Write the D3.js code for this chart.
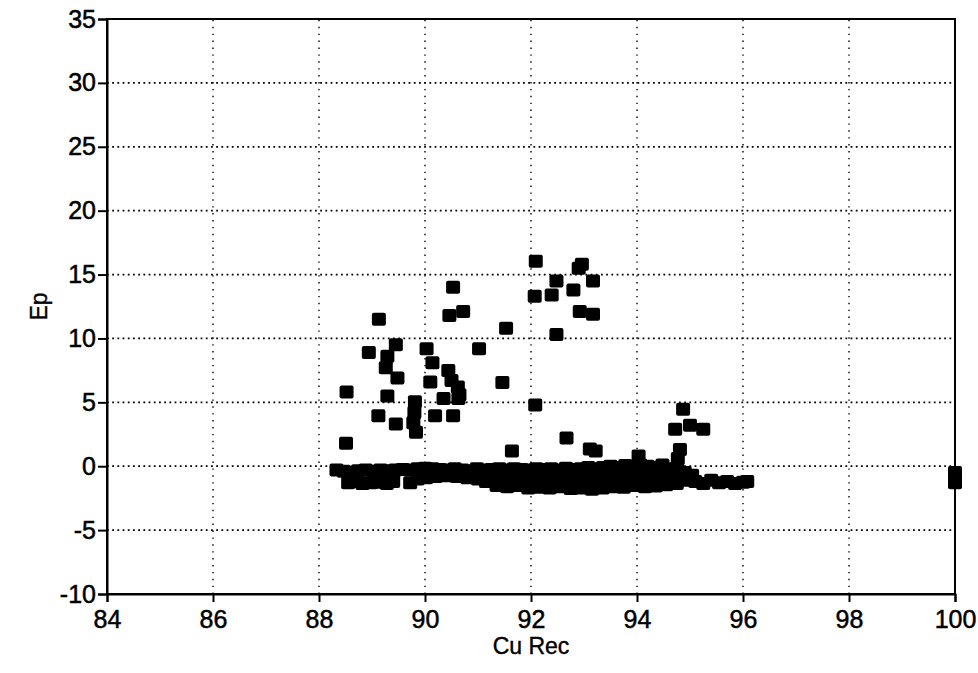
<!DOCTYPE html>
<html>
<head>
<meta charset="utf-8">
<script src="https://cdn.jsdelivr.net/npm/d3@7"></script>
<style>
  html, body { margin: 0; padding: 0; background: #fff; }
  svg { display: block; }
  .tick text { font-family: "Liberation Sans", Arial, sans-serif; font-size: 25px; fill: #000; stroke: #000; stroke-width: 0.5px; }
  .title { font-family: "Liberation Sans", Arial, sans-serif; font-size: 23px; fill: #000; stroke: #000; stroke-width: 0.4px; }
</style>
</head>
<body>
<svg id="chart" width="978" height="673"></svg>
<script>
// Axis ticks
const xTicks = [84, 86, 88, 90, 92, 94, 96, 98, 100];
const yTicks = [-10, -5, 0, 5, 10, 15, 20, 25, 30, 35];

// Scattered points above the main band: Cu recovery vs Ep
const scatterCuRec = [
  88.51, 88.52, 88.94, 89.13, 89.45, 89.29, 89.26, 89.48,
  90.03, 90.14, 90.44, 90.50, 90.65, 90.62, 90.10, 91.02, 91.46,
  89.29, 89.81, 90.35, 90.63, 89.12, 89.45, 89.80, 89.78, 89.83,
  90.19, 90.53, 92.08, 91.64, 92.67, 93.11, 93.22,
  90.53, 90.46, 90.72, 91.53,
  92.09, 92.48, 92.90, 92.96, 92.80, 93.17, 92.07, 92.39, 92.92, 93.17, 92.48,
  94.87, 94.72, 95.25, 95.00, 94.81, 94.77, 94.03,
  100.0, 100.0
];
const scatterEp = [
  1.8, 5.8, 8.9, 11.5, 9.5, 8.6, 7.7, 6.9,
  9.2, 8.1, 7.5, 6.7, 5.6, 6.2, 6.6, 9.2, 6.55,
  5.5, 5.05, 5.3, 5.3, 3.95, 3.3, 4.2, 3.4, 2.65,
  3.95, 3.95, 4.8, 1.2, 2.2, 1.35, 1.2,
  14.0, 11.8, 12.1, 10.8,
  16.05, 14.5, 15.5, 15.8, 13.8, 14.5, 13.3, 13.4, 12.1, 11.9, 10.3,
  4.45, 2.9, 2.9, 3.2, 1.3, 0.6, 0.8,
  -0.5, -1.3
];

// Dense band of points just below zero
const bandCuRec = [
  88.33, 88.47, 88.60, 88.74, 88.88, 89.02, 89.16, 89.30, 89.44, 89.58,
  89.72, 89.86, 90.00, 90.14, 90.28, 90.42, 90.56, 90.70, 90.84, 90.98,
  91.12, 91.26, 91.40, 91.54, 91.68, 91.82, 91.96, 92.10, 92.24, 92.38,
  92.52, 92.66, 92.80, 92.94, 93.08, 93.22, 93.36, 93.50, 93.64, 93.78,
  93.92, 94.06, 94.20, 94.34, 94.48, 94.62, 94.76, 94.90, 95.04,
  88.55, 88.68, 88.82, 88.98, 89.12, 89.28, 89.40, 89.72, 89.86, 90.02,
  90.20, 90.40, 90.60, 90.80, 91.00, 91.15,
  91.30, 91.50, 91.70, 91.90, 92.10, 92.30, 92.50, 92.70, 92.90, 93.10,
  93.30, 93.50, 93.70, 93.90, 94.10, 94.30, 94.50, 94.70, 94.90,
  91.35, 91.55, 91.75, 91.95, 92.15, 92.35, 92.55, 92.75, 92.95, 93.15,
  93.35, 93.55, 93.75, 93.95, 94.15, 94.35, 94.55, 94.75,
  95.10, 95.25, 95.40, 95.55, 95.70, 95.85, 96.00, 96.08
];
const bandEp = [
  -0.3, -0.4, -0.5, -0.35, -0.3, -0.4, -0.3, -0.35, -0.3, -0.25,
  -0.3, -0.2, -0.15, -0.2, -0.25, -0.3, -0.2, -0.3, -0.35, -0.2,
  -0.3, -0.25, -0.2, -0.3, -0.2, -0.25, -0.3, -0.2, -0.25, -0.2,
  -0.3, -0.15, -0.25, -0.2, -0.1, -0.2, -0.1, 0.0, -0.1, 0.05,
  -0.05, 0.1, 0.0, -0.1, 0.1, -0.2, -0.3, -0.5, -0.7,
  -1.3, -1.2, -1.35, -1.3, -1.25, -1.35, -1.2, -1.3, -1.0, -0.9,
  -0.8, -0.75, -0.8, -0.9, -1.0, -1.2,
  -0.9, -1.0, -0.8, -0.9, -1.0, -0.9, -0.85, -1.0, -0.9, -0.8,
  -0.95, -0.8, -0.9, -0.7, -0.85, -0.9, -0.8, -1.0, -1.1,
  -1.5, -1.6, -1.5, -1.7, -1.65, -1.7, -1.6, -1.75, -1.7, -1.8,
  -1.7, -1.6, -1.65, -1.5, -1.6, -1.55, -1.45, -1.35,
  -1.2, -1.35, -1.1, -1.3, -1.2, -1.35, -1.25, -1.2
];

const svg = d3.select("#chart");
const margin = { left: 107, right: 23, top: 19, bottom: 79 };
const W = 978, H = 673;

const x = d3.scaleLinear().domain([84, 100]).range([margin.left, W - margin.right]);
const y = d3.scaleLinear().domain([-10, 35]).range([H - margin.bottom, margin.top]);

// Grid
const grid = svg.append("g");
grid.selectAll("line.h").data(yTicks.slice(1, -1)).join("line")
  .attr("x1", x(84)).attr("x2", x(100))
  .attr("y1", d => y(d)).attr("y2", d => y(d))
  .attr("stroke", "#000").attr("stroke-width", 1.8)
  .attr("stroke-dasharray", "1.8,3.4");
grid.selectAll("line.v").data(xTicks.slice(1, -1)).join("line")
  .attr("y1", y(-10)).attr("y2", y(35))
  .attr("x1", d => x(d)).attr("x2", d => x(d))
  .attr("stroke", "#000").attr("stroke-width", 1.4)
  .attr("stroke-dasharray", "1.4,5.5");

// Frame
svg.append("rect")
  .attr("x", x(84)).attr("y", y(35))
  .attr("width", x(100) - x(84)).attr("height", y(-10) - y(35))
  .attr("fill", "none").attr("stroke", "#000").attr("stroke-width", 2);

// Axes
const xAxis = svg.append("g")
  .attr("transform", `translate(0,${y(-10)})`)
  .call(d3.axisBottom(x).tickValues(xTicks).tickSize(8).tickPadding(8).tickFormat(d3.format("d")));
const yAxis = svg.append("g")
  .attr("transform", `translate(${x(84)},0)`)
  .call(d3.axisLeft(y).tickValues(yTicks).tickSize(9).tickPadding(2).tickFormat(d3.format("d")));
[xAxis, yAxis].forEach(a => {
  a.select(".domain").attr("stroke", "#000").attr("stroke-width", 2);
  a.selectAll(".tick line").attr("stroke", "#000").attr("stroke-width", 2);
});
// ASCII hyphen for negative labels
yAxis.selectAll(".tick text").text(d => String(d));

// Points
const pts = bandCuRec.map((v, i) => [v, bandEp[i]])
  .concat(scatterCuRec.map((v, i) => [v, scatterEp[i]]));
const sw = 14, sh = 13;
svg.append("g").selectAll("rect").data(pts).join("rect")
  .attr("x", d => x(d[0]) - sw / 2)
  .attr("y", d => y(d[1]) - sh / 2)
  .attr("width", sw).attr("height", sh)
  .attr("rx", 2).attr("fill", "#000");

// Titles
svg.append("text").attr("class", "title")
  .attr("x", (x(84) + x(100)) / 2).attr("y", 654)
  .attr("text-anchor", "middle").text("Cu Rec");
svg.append("text").attr("class", "title")
  .attr("transform", `translate(47,${(y(-10) + y(35)) / 2}) rotate(-90)`)
  .attr("text-anchor", "middle").text("Ep");
</script>
</body>
</html>
